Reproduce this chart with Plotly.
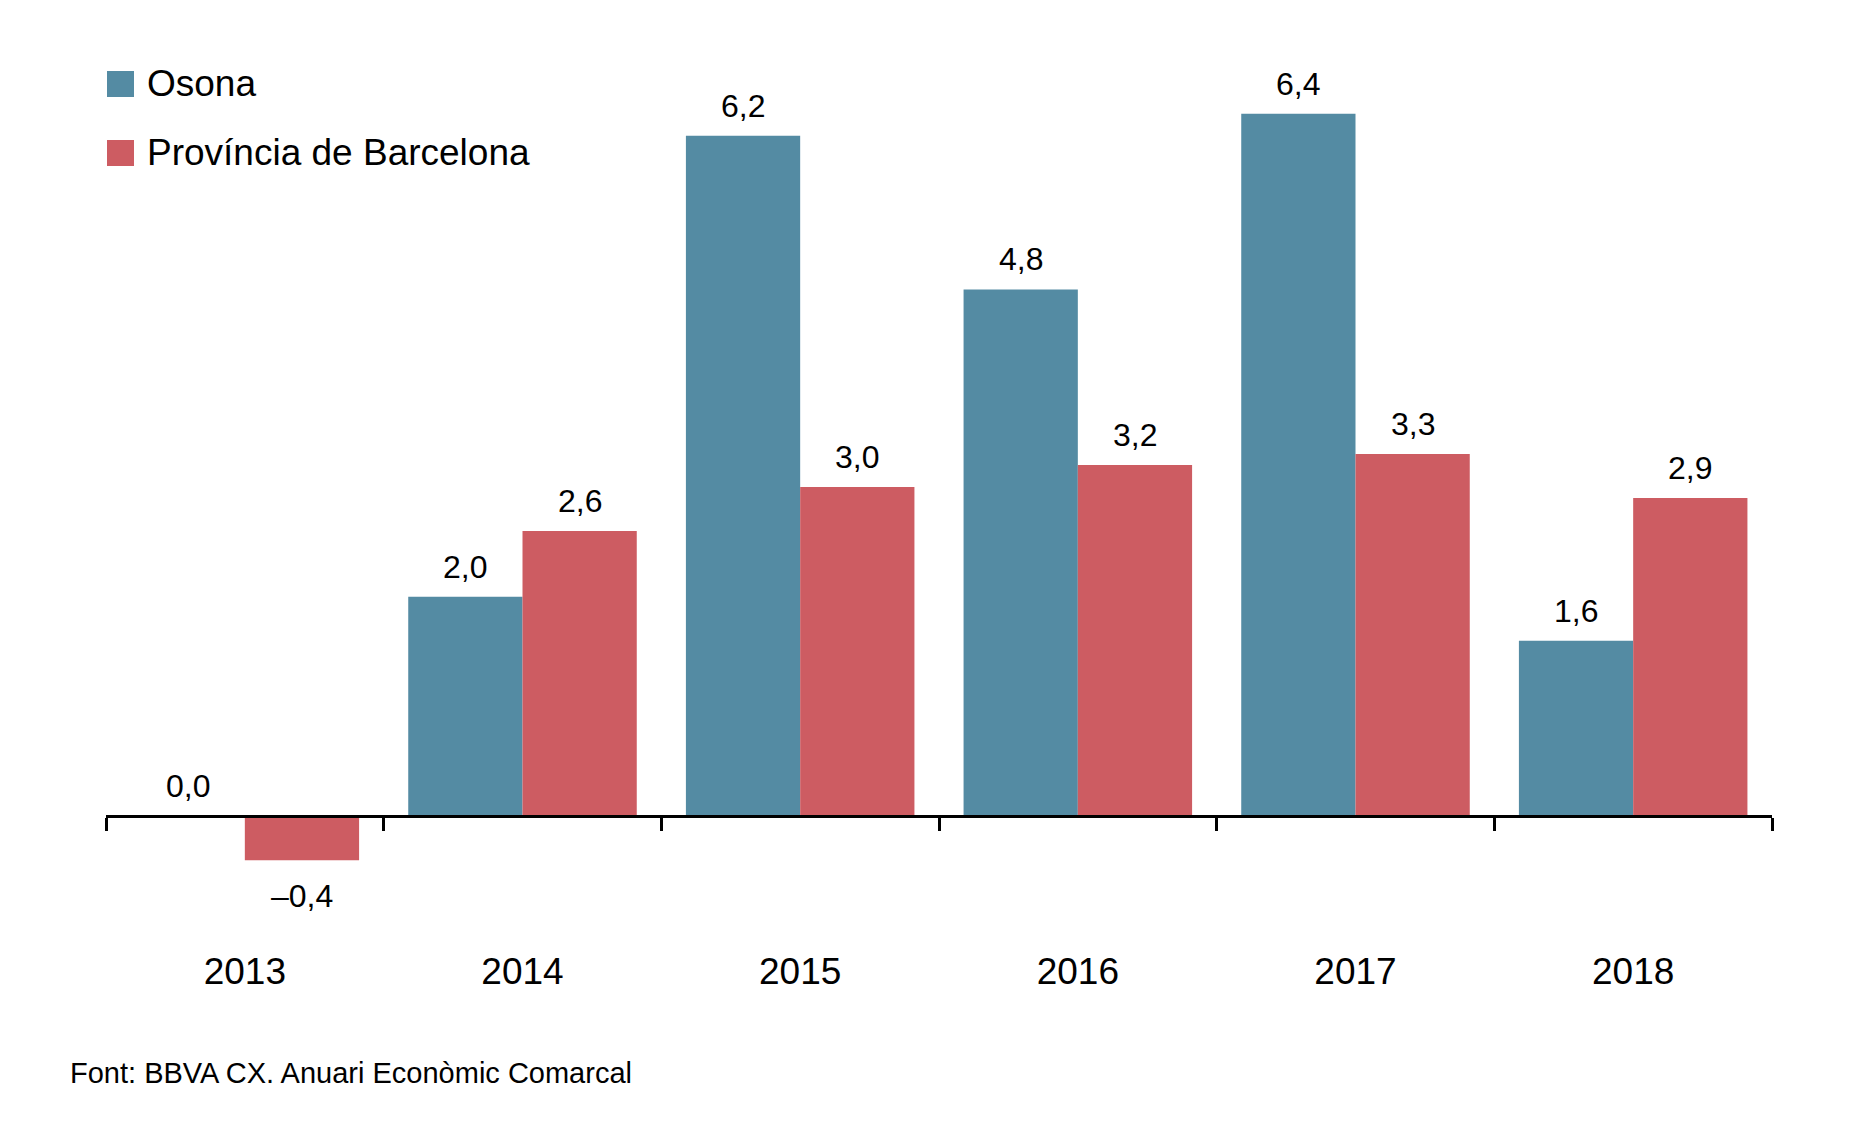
import plotly.graph_objects as go

years = ["2013", "2014", "2015", "2016", "2017", "2018"]
osona = [0.0, 2.0, 6.2, 4.8, 6.4, 1.6]
barcelona = [-0.4, 2.6, 3.0, 3.2, 3.3, 2.9]
series_names = ["Osona", "Província de Barcelona"]
source_text = "Font: BBVA CX. Anuari Econòmic Comarcal"

blue = "#548BA3"
red = "#CD5C62"
font = "Liberation Sans, Arial, Helvetica, sans-serif"

# figure geometry (pixels)
W, H = 1862, 1134
L, R, T, B = 98, 98, 40, 227
PW, PH = W - L - R, H - T - B
y_min, y_max = -0.9, 7.0
bargap = 0.177
bar_px = PW / len(years) * (1 - bargap) / 2


def px_x(px):
    return (px - L) / PW


def px_y(py):
    return 1 - (py - T) / PH


def fmt(v):
    return f"{v:.1f}".replace(".", ",").replace("-", "\u2013")


fig = go.Figure()
fig.add_trace(go.Bar(x=years, y=osona, name=series_names[0],
                     marker=dict(color=blue, line=dict(width=0))))
fig.add_trace(go.Bar(x=years, y=barcelona, name=series_names[1],
                     marker=dict(color=red, line=dict(width=0))))

# value labels (x given as category index so "2013" is not read as a number)
annotations = []
for vals, shift in [(osona, -bar_px / 2), (barcelona, bar_px / 2)]:
    for i, v in enumerate(vals):
        neg = v < 0
        annotations.append(dict(
            x=i, y=v, xref="x", yref="y", text=fmt(v), showarrow=False,
            xshift=shift, yshift=-16 if neg else 10,
            yanchor="top" if neg else "bottom",
            font=dict(size=32, color="black", family=font)))

# legend drawn by hand so the swatches can be large
shapes = []
for i, (name, col) in enumerate(zip(series_names, [blue, red])):
    top = 63 + i * 69
    shapes.append(dict(type="rect", xref="paper", yref="paper",
                       x0=px_x(99), x1=px_x(126), y0=px_y(top + 26), y1=px_y(top),
                       fillcolor=col, line=dict(width=0)))
    annotations.append(dict(x=px_x(137), y=px_y(top + 13), xref="paper", yref="paper",
                            text=name, showarrow=False, xanchor="left", yanchor="middle",
                            font=dict(size=37, color="black", family=font)))

annotations.append(dict(x=px_x(60), y=px_y(1065), xref="paper", yref="paper",
                        text=source_text, showarrow=False, xanchor="left", yanchor="middle",
                        font=dict(size=29, color="black", family=font)))

fig.update_layout(
    width=W, height=H,
    margin=dict(l=L, r=R, t=T, b=B),
    paper_bgcolor="white", plot_bgcolor="white",
    barmode="group", bargap=bargap, bargroupgap=0,
    showlegend=False,
    font=dict(family=font, color="black"),
    annotations=annotations, shapes=shapes,
)
fig.update_xaxes(
    type="category", range=[-0.5, len(years) - 0.5],
    anchor="free", position=(0 - y_min) / (y_max - y_min),
    showline=True, linecolor="black", linewidth=2.5,
    ticks="outside", tickson="boundaries", ticklen=13, tickwidth=2.5, tickcolor="black",
    ticklabelstandoff=122, tickfont=dict(size=37, color="black", family=font),
    showgrid=False, zeroline=False,
)
fig.update_yaxes(range=[y_min, y_max], visible=False, showgrid=False, zeroline=False)

fig.write_html("out.html")
